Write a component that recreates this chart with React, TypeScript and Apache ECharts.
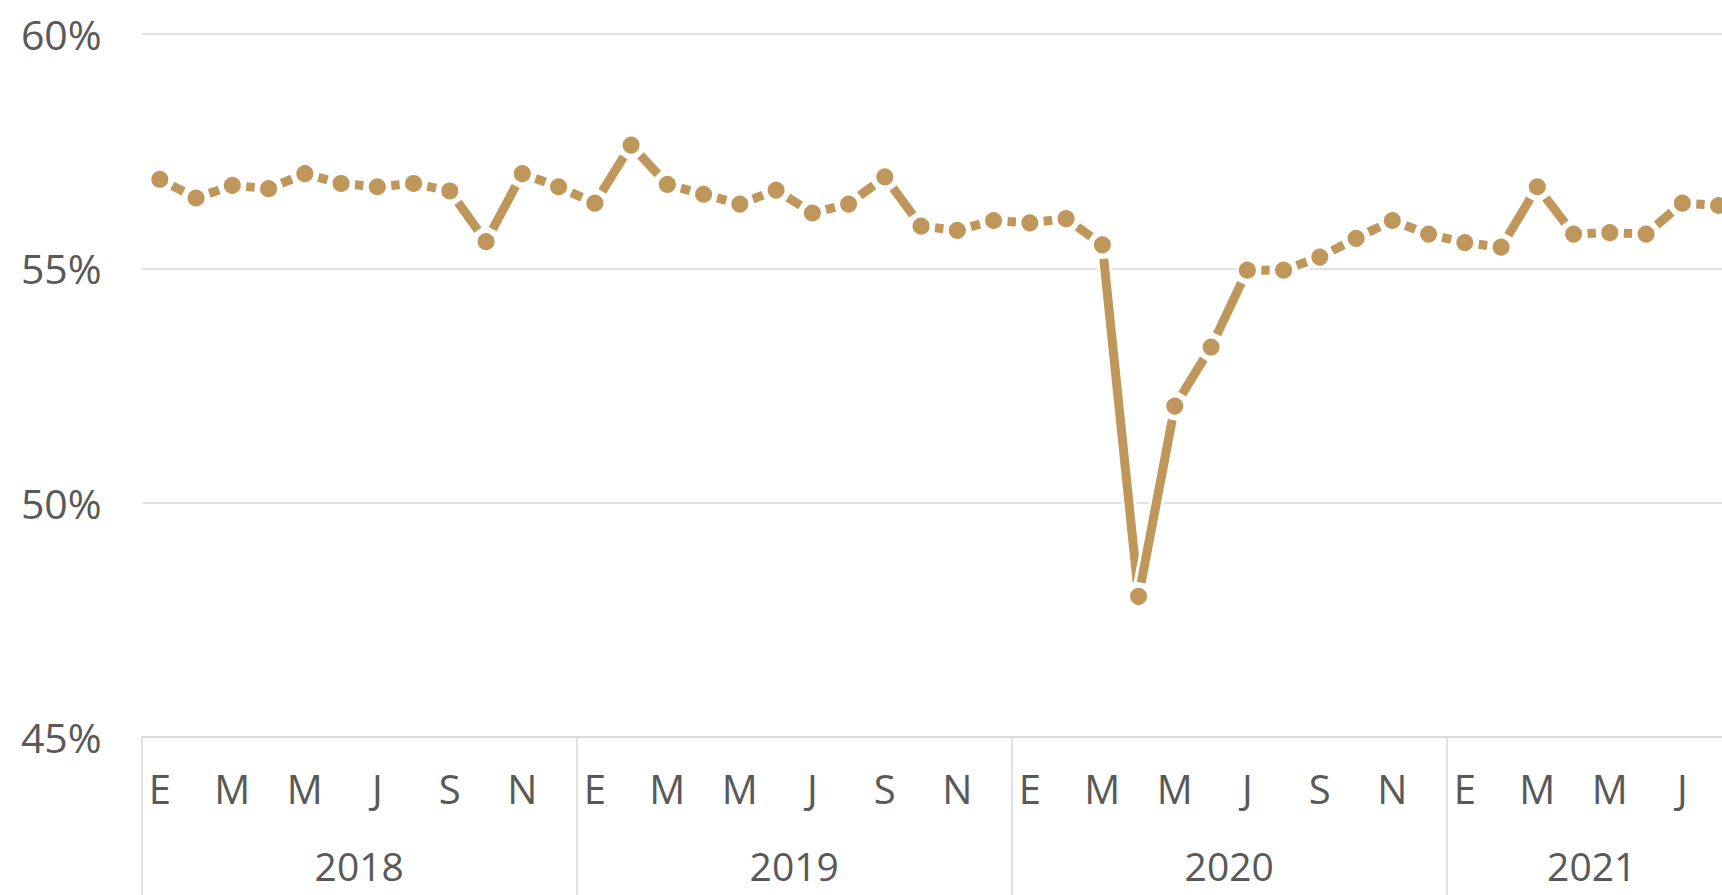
import React, { useEffect, useRef } from "react";
import * as echarts from "echarts";

// ---- data ----
const years = ["2018", "2019", "2020", "2021"];
const monthInitials = ["E", "F", "M", "A", "M", "J", "J", "A", "S", "O", "N", "D"];
const values2018 = [56.9, 56.5, 56.77, 56.7, 57.02, 56.81, 56.74, 56.81, 56.65, 55.57, 57.02, 56.74];
const values2019 = [56.39, 57.63, 56.79, 56.58, 56.37, 56.67, 56.18, 56.37, 56.95, 55.9, 55.81, 56.02];
const values2020 = [55.97, 56.06, 55.5, 48.0, 52.06, 53.32, 54.96, 54.96, 55.24, 55.64, 56.02, 55.73];
const values2021 = [55.55, 55.45, 56.74, 55.73, 55.76, 55.73, 56.39, 56.34];
const yTicks = [45, 50, 55, 60];

const GOLD = "#BF975A";
const GRID = "#d9d9d9";
const TEXT = "#595959";
const FONT = "Open Sans";

export default function App() {
  const ref = useRef<HTMLDivElement>(null);

  useEffect(() => {
    if (!ref.current) return;
    const chart = echarts.init(ref.current, undefined, { renderer: "svg" });

    const perYear = [values2018, values2019, values2020, values2021];
    const values: number[] = perYear.flat();
    const categories: string[] = [];
    perYear.forEach((arr) => arr.forEach((_, m) => categories.push(monthInitials[m])));
    const n = values.length;

    // year boundaries and label centres (in month units)
    const bounds: number[] = [0];
    const centres: number[] = [];
    const centreYear: Record<string, string> = {};
    let acc = 0;
    perYear.forEach((arr, k) => {
      const c = acc + arr.length / 2;
      centres.push(c);
      centreYear[String(c)] = years[k];
      acc += arr.length;
      bounds.push(acc);
    });

    const segData = values.map((v, i) => [i, v, i + 1 < n ? values[i + 1] : null]);

    const gap = 14;
    const lineW = 9;

    chart.setOption({
      animation: false,
      grid: { left: 141.7, top: 34, width: 1595, height: 702.9 },
      xAxis: [
        {
          type: "category",
          data: categories,
          boundaryGap: true,
          position: "bottom",
          axisLine: { show: true, lineStyle: { color: GRID, width: 1.5 } },
          axisTick: { show: false },
          axisLabel: {
            interval: 1,
            margin: 32,
            color: TEXT,
            fontFamily: FONT,
            fontSize: 40,
          },
          splitLine: { show: false },
        },
        {
          type: "value",
          min: 0,
          max: n,
          position: "bottom",
          axisLine: { show: false },
          axisTick: {
            show: true,
            customValues: bounds,
            length: 220,
            lineStyle: { color: GRID, width: 1.5 },
          },
          axisLabel: {
            customValues: centres,
            margin: 109,
            color: TEXT,
            fontFamily: FONT,
            fontSize: 39,
            formatter: (v: number) => centreYear[String(v)] ?? "",
          },
          splitLine: { show: false },
        },
      ],
      yAxis: {
        type: "value",
        min: 45,
        max: 60,
        interval: 5,
        axisLine: { show: false },
        axisTick: { show: false },
        axisLabel: {
          formatter: "{value}%",
          margin: 40,
          color: TEXT,
          fontFamily: FONT,
          fontSize: 41,
        },
        splitLine: { show: true, lineStyle: { color: GRID, width: 1.5 } },
        data: yTicks,
      },
      series: [
        {
          type: "custom",
          xAxisIndex: 0,
          yAxisIndex: 0,
          data: segData,
          encode: { x: 0, y: 1 },
          z: 2,
          renderItem: (params: any, api: any) => {
            const i = api.value(0);
            const v = api.value(1);
            const vn = api.value(2);
            if (vn === null || vn === undefined || isNaN(vn)) return null;
            const p0 = api.coord([i, v]);
            const p1 = api.coord([i + 1, vn]);
            const dx = p1[0] - p0[0];
            const dy = p1[1] - p0[1];
            const len = Math.sqrt(dx * dx + dy * dy);
            const ux = dx / len;
            const uy = dy / len;
            const children: any[] = [
              {
                type: "line",
                shape: { x1: p0[0], y1: p0[1], x2: p1[0], y2: p1[1] },
                style: { stroke: "#ffffff", lineWidth: lineW + 6 },
              },
            ];
            if (len > 2 * gap + 2) {
              children.push({
                type: "line",
                shape: {
                  x1: p0[0] + ux * gap,
                  y1: p0[1] + uy * gap,
                  x2: p1[0] - ux * gap,
                  y2: p1[1] - uy * gap,
                },
                style: { stroke: GOLD, lineWidth: lineW, lineCap: "butt" },
              });
            }
            return { type: "group", children };
          },
        },
        {
          type: "line",
          data: values,
          z: 3,
          symbol: "circle",
          symbolSize: 19,
          showSymbol: true,
          itemStyle: { color: GOLD, borderColor: "#ffffff", borderWidth: 2 },
          lineStyle: { width: 0, opacity: 0 },
        },
      ],
    });

    return () => chart.dispose();
  }, []);

  return (
    <div
      style={{
        position: "fixed",
        left: 0,
        top: 0,
        width: "1722px",
        height: "895px",
        overflow: "hidden",
        background: "#ffffff",
      }}
    >
      <div ref={ref} style={{ width: "1760px", height: "960px" }} />
    </div>
  );
}
